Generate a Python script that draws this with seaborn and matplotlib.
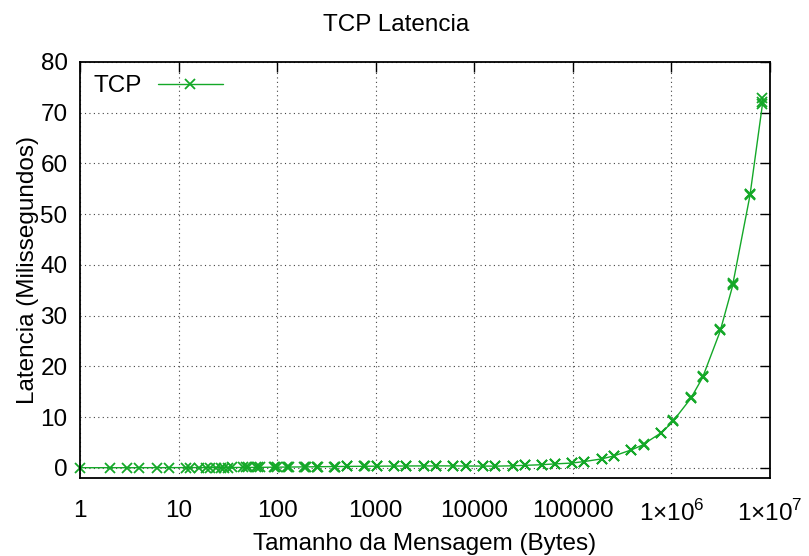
import numpy as np
import pandas as pd
import seaborn as sns
import matplotlib
matplotlib.use('Agg')
import matplotlib.pyplot as plt
from matplotlib.ticker import FixedLocator, NullLocator

# message sizes (bytes), NetPIPE style with +/-3 perturbation
sizes = [1, 2, 3, 4, 6, 8, 12,
         13, 16, 19, 21, 24, 27, 29, 32, 35, 45, 48, 51, 61, 64, 67,
         93, 96, 99, 125, 128, 131, 189, 192, 195, 253, 256, 259,
         381, 384, 387, 509, 512, 515, 765, 768, 771, 1021, 1024, 1027,
         1533, 1536, 1539, 2045, 2048, 2051, 3069, 3072, 3075, 4093, 4096, 4099,
         6141, 6144, 6147, 8189, 8192, 8195, 12285, 12288, 12291,
         16381, 16384, 16387, 24573, 24576, 24579, 32765, 32768, 32771,
         49149, 49152, 49155, 65533, 65536, 65539, 98301, 98304, 98307,
         131069, 131072, 131075, 196605, 196608, 196611, 262141, 262144, 262147,
         393213, 393216, 393219, 524285, 524288, 524291, 786429, 786432, 786435,
         1048573, 1048576, 1048579, 1572861, 1572864, 1572867,
         2097149, 2097152, 2097155, 3145725, 3145728, 3145731,
         4194301, 4194304, 4194307, 6291453, 6291456, 6291459,
         8388605, 8388608, 8388611]

# latency (ms)
latency = [0.03, 0.03, 0.03, 0.03, 0.04, 0.04, 0.05,
           0.05, 0.05, 0.05, 0.06, 0.06, 0.06, 0.06, 0.06, 0.07,
           0.08, 0.08, 0.08, 0.10, 0.10, 0.10,
           0.13, 0.13, 0.13, 0.16, 0.16, 0.16, 0.19, 0.19, 0.19, 0.22, 0.22, 0.22,
           0.26, 0.26, 0.26, 0.28, 0.28, 0.29, 0.31, 0.31, 0.31, 0.33, 0.33, 0.33,
           0.35, 0.35, 0.35, 0.37, 0.37, 0.37, 0.38, 0.38, 0.38, 0.38, 0.39, 0.39,
           0.38, 0.38, 0.38, 0.37, 0.37, 0.37, 0.35, 0.35, 0.35,
           0.34, 0.34, 0.34, 0.40, 0.40, 0.40, 0.50, 0.50, 0.50,
           0.62, 0.62, 0.63, 0.78, 0.78, 0.78, 0.95, 0.95, 0.95,
           1.25, 1.24, 1.25, 1.77, 1.77, 1.78, 2.36, 2.35, 2.37,
           3.55, 3.56, 3.55, 4.6, 4.6, 4.7, 6.9, 6.9, 6.9,
           9.2, 9.5, 9.3, 13.7, 13.9, 13.7,
           18.0, 18.0, 18.1, 27.1, 27.4, 27.2,
           36.0, 36.4, 36.2, 53.9, 53.8, 54.0,
           71.7, 72.85, 72.2]

xticks = [1, 10, 100, 1000, 10000, 100000, 1e6, 1e7]
xticklabels = ['1', '10', '100', '1000', '10000', '100000',
               r'1$\times$10$^6$', r'1$\times$10$^7$']
yticks = [0, 10, 20, 30, 40, 50, 60, 70, 80]

df = pd.DataFrame({'size': sizes, 'latency': latency})

sns.set_style('white')
plt.rcParams['font.family'] = ['Liberation Sans', 'DejaVu Sans']
plt.rcParams['mathtext.fontset'] = 'custom'
plt.rcParams['mathtext.rm'] = 'Liberation Sans'
plt.rcParams['text.color'] = 'black'
plt.rcParams['axes.labelcolor'] = 'black'
plt.rcParams['xtick.color'] = 'black'
plt.rcParams['ytick.color'] = 'black'

fig = plt.figure(figsize=(8.09, 5.56), dpi=100)
ax = fig.add_axes([80 / 809, 1 - 478 / 556, 690 / 809, 416 / 556])

green = '#14a828'
sns.lineplot(data=df, x='size', y='latency', ax=ax, color=green, linewidth=1.0,
             marker='x', markersize=6.5, markeredgewidth=1.3, markeredgecolor=green,
             label='TCP', clip_on=False, estimator=None, sort=False)

ax.set_xscale('log')
ax.set_xlim(1, 1e7)
ax.set_ylim(-2, 80)
ax.xaxis.set_major_locator(FixedLocator(xticks))
ax.xaxis.set_minor_locator(NullLocator())
ax.set_xticklabels(xticklabels)
ax.set_yticks(yticks)

fs = 17.5
ax.grid(True, linestyle=(0, (1, 3)), color='#444444', linewidth=0.8)
ax.tick_params(axis='both', which='major', direction='in', length=7, width=1,
               top=True, right=True, labelsize=fs, color='black', labelcolor='black')
ax.tick_params(axis='x', pad=16)
ax.tick_params(axis='y', pad=9)
for s in ax.spines.values():
    s.set_color('black')
    s.set_linewidth(1.3)

ax.set_xlabel('Tamanho da Mensagem (Bytes)', fontsize=fs, labelpad=5)
ax.set_ylabel('Latencia (Milissegundos)', fontsize=fs, labelpad=1)
fig.text(396 / 809, 1 - 25 / 556, 'TCP Latencia', ha='center', va='center', fontsize=fs)

leg = ax.legend(loc='upper left', frameon=False, markerfirst=False, fontsize=fs,
                handlelength=2.7, borderaxespad=0.15, handletextpad=0.65)

fig.savefig('out.png', dpi=100)
